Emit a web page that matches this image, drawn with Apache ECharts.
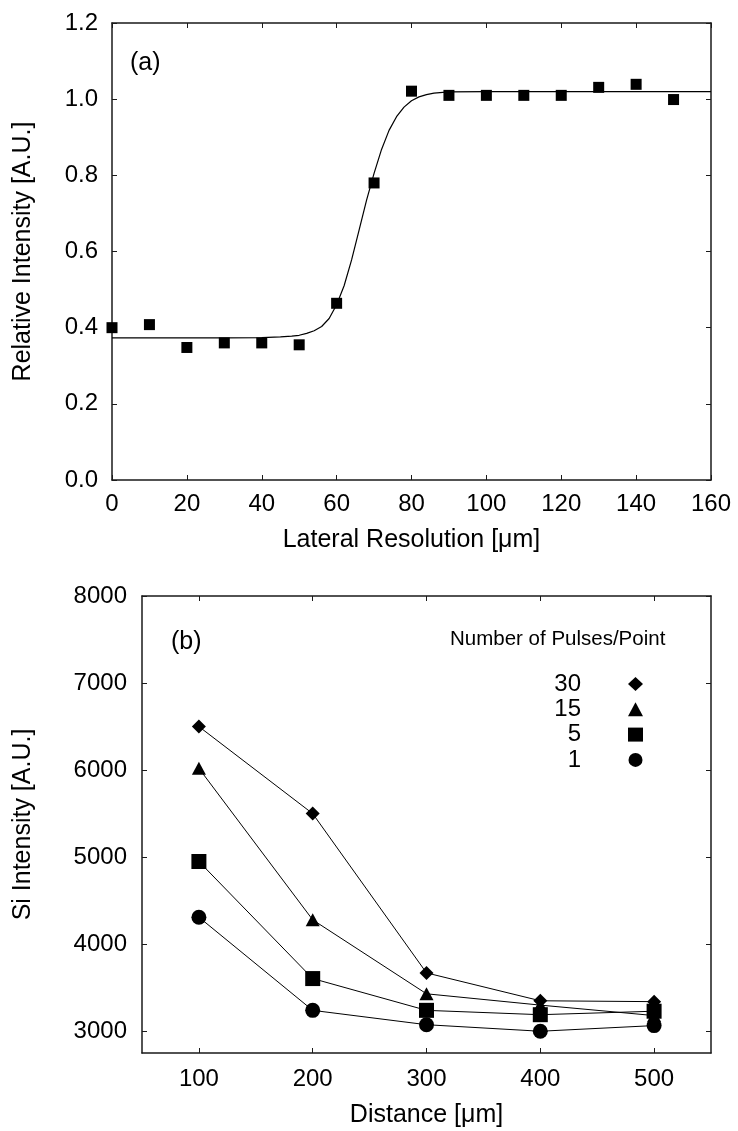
<!DOCTYPE html>
<html>
<head>
<meta charset="utf-8">
<script src="https://cdn.jsdelivr.net/npm/echarts@6/dist/echarts.min.js"></script>
<style>
html,body{margin:0;padding:0;background:#fff;}
#c{width:738px;height:1131px;}
</style>
</head>
<body>
<div id="c"></div>
<script>
// ---- Panel (a) data ----
const lateralX = [0, 10, 20, 30, 40, 50, 60, 70, 80, 90, 100, 110, 120, 130, 140, 150];
const relIntensity = [0.400, 0.408, 0.348, 0.360, 0.360, 0.355, 0.464, 0.780, 1.021, 1.010, 1.010, 1.010, 1.010, 1.031, 1.039, 0.999];
const fitX = [0, 10, 20, 30, 40, 45, 48, 50, 52, 54, 56, 58, 60, 62, 64, 66, 68, 70, 72, 74, 76, 78, 80, 82, 84, 86, 90, 100, 120, 140, 160];
const fitY = [0.373, 0.373, 0.373, 0.373, 0.374, 0.376, 0.378, 0.380, 0.385, 0.392, 0.403, 0.424, 0.460, 0.510, 0.578, 0.656, 0.735, 0.805, 0.868, 0.918, 0.954, 0.979, 0.996, 1.006, 1.012, 1.016, 1.019, 1.020, 1.020, 1.020, 1.020];

// ---- Panel (b) data ----
const distance = [100, 200, 300, 400, 500];
const pulses30 = [6500, 5500, 3670, 3350, 3340];
const pulses15 = [6020, 4280, 3430, 3300, 3180];
const pulses5 = [4950, 3605, 3240, 3190, 3230];
const pulses1 = [4310, 3240, 3075, 3000, 3065];
const xTicksB = [100, 200, 300, 400, 500];
const yTicksB = [3000, 4000, 5000, 6000, 7000, 8000];
const legendNames = ['30', '15', '5', '1'];

const FONT = 'Liberation Sans, Arial, Helvetica, sans-serif';
const AX = '#1a1a1a';
const FS = 24;

function zip(xs, ys) { return xs.map((x, i) => [x, ys[i]]); }

const TICK = { show: true, inside: true, length: 5, lineStyle: { color: AX, width: 1 } };

function baseAxis(extra) {
  return Object.assign({
    type: 'value',
    splitLine: { show: false },
    axisLine: { show: true, onZero: false, lineStyle: { color: AX, width: 1.5 } },
    axisTick: TICK,
    axisLabel: { show: true, color: '#000', fontSize: FS, fontFamily: FONT },
    nameTextStyle: { color: '#000', fontSize: 25, fontFamily: FONT }
  }, extra);
}

const chart = echarts.init(document.getElementById('c'), null, { renderer: 'canvas' });

const option = {
  animation: false,
  backgroundColor: '#fff',
  grid: [
    { left: 112, top: 23, width: 599, height: 457 },
    { left: 142, top: 596, width: 569, height: 457 }
  ],
  xAxis: [
    baseAxis({
      gridIndex: 0, position: 'bottom', min: 0, max: 160, interval: 20,
      axisLabel: { color: '#000', fontSize: FS, fontFamily: FONT, margin: 12 },
      name: 'Lateral Resolution [\u03bcm]', nameLocation: 'middle', nameGap: 48
    }),
    baseAxis({
      gridIndex: 0, position: 'top', min: 0, max: 160, interval: 20,
      axisLabel: { show: false }
    }),
    baseAxis({
      gridIndex: 1, position: 'bottom', min: 50, max: 550,
      axisLabel: { color: '#000', fontSize: FS, fontFamily: FONT, margin: 14, customValues: xTicksB, formatter: v => String(v) },
      axisTick: Object.assign({}, TICK, { customValues: xTicksB }),
      name: 'Distance [\u03bcm]', nameLocation: 'middle', nameGap: 50
    }),
    baseAxis({
      gridIndex: 1, position: 'top', min: 50, max: 550,
      axisLabel: { show: false, customValues: xTicksB },
      axisTick: Object.assign({}, TICK, { customValues: xTicksB })
    })
  ],
  yAxis: [
    baseAxis({
      gridIndex: 0, position: 'left', min: 0, max: 1.2, interval: 0.2,
      axisLabel: { color: '#000', fontSize: FS, fontFamily: FONT, margin: 14, formatter: v => v.toFixed(1) },
      name: 'Relative Intensity [A.U.]', nameLocation: 'middle', nameGap: 76
    }),
    baseAxis({
      gridIndex: 0, position: 'right', min: 0, max: 1.2, interval: 0.2,
      axisLabel: { show: false }
    }),
    baseAxis({
      gridIndex: 1, position: 'left', min: 2750, max: 8000,
      axisLabel: { color: '#000', fontSize: FS, fontFamily: FONT, margin: 15, customValues: yTicksB, formatter: v => String(v) },
      axisTick: Object.assign({}, TICK, { customValues: yTicksB }),
      name: 'Si Intensity [A.U.]', nameLocation: 'middle', nameGap: 106
    }),
    baseAxis({
      gridIndex: 1, position: 'right', min: 2750, max: 8000,
      axisLabel: { show: false, customValues: yTicksB },
      axisTick: Object.assign({}, TICK, { customValues: yTicksB })
    })
  ],
  legend: {
    data: [
      { name: legendNames[0], icon: 'diamond' },
      { name: legendNames[1], icon: 'triangle' },
      { name: legendNames[2], icon: 'rect' },
      { name: legendNames[3], icon: 'circle' }
    ],
    orient: 'vertical',
    align: 'right',
    right: 95,
    top: 672,
    padding: 0,
    itemGap: 1.3,
    itemWidth: 15,
    itemHeight: 14,
    selectedMode: false,
    itemStyle: { color: '#000' },
    textStyle: { color: '#000', fontSize: 24, fontFamily: FONT, lineHeight: 24, padding: [0, 42, 0, 0] }
  },
  graphic: [
    { type: 'text', left: 130, top: 51, style: { text: '(a)', fontSize: 25, fontFamily: FONT, fill: '#000' } },
    { type: 'text', left: 171, top: 630, style: { text: '(b)', fontSize: 25, fontFamily: FONT, fill: '#000' } },
    { type: 'text', left: 450, top: 629, style: { text: 'Number of Pulses/Point', fontSize: 20.5, fontFamily: FONT, fill: '#000' } }
  ],
  series: [
    {
      type: 'line', xAxisIndex: 0, yAxisIndex: 0, data: zip(fitX, fitY),
      showSymbol: false, smooth: false,
      lineStyle: { color: '#000', width: 1.2 }, z: 2, silent: true
    },
    {
      type: 'scatter', xAxisIndex: 0, yAxisIndex: 0, data: zip(lateralX, relIntensity),
      symbol: 'rect', symbolSize: 11, itemStyle: { color: '#000', opacity: 1 }, z: 3
    },
    {
      name: legendNames[0], type: 'line', xAxisIndex: 2, yAxisIndex: 2, data: zip(distance, pulses30),
      symbol: 'diamond', symbolSize: 14, showSymbol: true,
      lineStyle: { color: '#000', width: 1 }, itemStyle: { color: '#000', opacity: 1 }
    },
    {
      name: legendNames[1], type: 'line', xAxisIndex: 2, yAxisIndex: 2, data: zip(distance, pulses15),
      symbol: 'triangle', symbolSize: [14, 13], showSymbol: true,
      lineStyle: { color: '#000', width: 1 }, itemStyle: { color: '#000', opacity: 1 }
    },
    {
      name: legendNames[2], type: 'line', xAxisIndex: 2, yAxisIndex: 2, data: zip(distance, pulses5),
      symbol: 'rect', symbolSize: 15, showSymbol: true,
      lineStyle: { color: '#000', width: 1 }, itemStyle: { color: '#000', opacity: 1 }
    },
    {
      name: legendNames[3], type: 'line', xAxisIndex: 2, yAxisIndex: 2, data: zip(distance, pulses1),
      symbol: 'circle', symbolSize: 15, showSymbol: true,
      lineStyle: { color: '#000', width: 1 }, itemStyle: { color: '#000', opacity: 1 }
    }
  ]
};
chart.setOption(option);
</script>
</body>
</html>
